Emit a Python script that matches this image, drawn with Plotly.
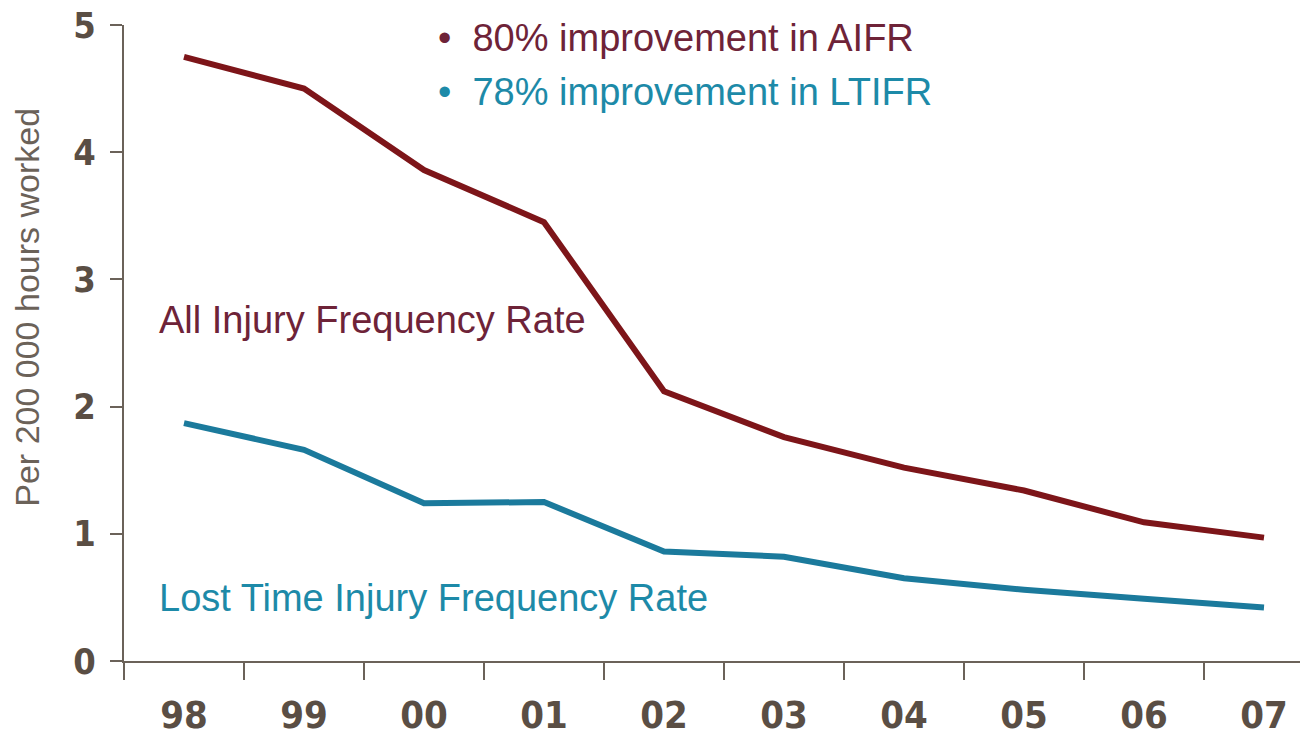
import plotly.graph_objects as go

years = ["98", "99", "00", "01", "02", "03", "04", "05", "06", "07"]
aifr = [4.75, 4.50, 3.86, 3.45, 2.12, 1.76, 1.52, 1.34, 1.09, 0.97]
ltifr = [1.87, 1.66, 1.24, 1.25, 0.86, 0.82, 0.65, 0.56, 0.49, 0.42]
y_ticks = [0, 1, 2, 3, 4, 5]

axis_col = "#6b6259"
lab_col = "#5a4e44"
aifr_line = "#7d1519"
ltifr_line = "#1b7a9c"
aifr_text = "#6e2338"
ltifr_text = "#1d8aa8"
tick_family = "DejaVu Sans Condensed, Liberation Sans Narrow, Liberation Sans, Arial"

fig = go.Figure()
fig.add_trace(go.Scatter(x=years, y=aifr, mode="lines",
                         line=dict(color=aifr_line, width=6), showlegend=False))
fig.add_trace(go.Scatter(x=years, y=ltifr, mode="lines",
                         line=dict(color=ltifr_line, width=6), showlegend=False))

fig.update_layout(
    width=1305, height=751,
    margin=dict(l=124, r=5, t=25, b=90),
    paper_bgcolor="white", plot_bgcolor="white",
    showlegend=False,
)
fig.update_xaxes(
    type="category", range=[-0.5, 9.3], tickson="boundaries", automargin=False,
    showline=True, linecolor=axis_col, linewidth=2,
    ticks="outside", ticklen=17, tickcolor=axis_col, tickwidth=2,
    showgrid=False, zeroline=False,
    tickfont=dict(family=tick_family, size=38, color=lab_col, weight="bold"),
    ticklabelstandoff=19, ticklabeloverflow="allow",
)
fig.update_yaxes(
    range=[0, 5], tickvals=y_ticks, automargin=False,
    showline=True, linecolor=axis_col, linewidth=2,
    ticks="outside", ticklen=12, tickcolor=axis_col, tickwidth=2,
    showgrid=False, zeroline=False,
    tickfont=dict(family=tick_family, size=36, color=lab_col, weight="bold"),
    ticklabelstandoff=7, ticklabeloverflow="allow",
)

txt_font = "Liberation Sans, Arial"
fig.add_annotation(text="Per 200 000 hours worked", xref="paper", yref="paper",
                   x=-0.0825, y=0.557, textangle=-90, showarrow=False,
                   font=dict(family=txt_font, size=34, color=axis_col), xanchor="center", yanchor="middle")
fig.add_annotation(text="All Injury Frequency Rate", x=-0.225, y=2.68, xref="x", yref="y",
                   xanchor="left", yanchor="middle", showarrow=False,
                   font=dict(family=txt_font, size=38, color=aifr_text))
fig.add_annotation(text="Lost Time Injury Frequency Rate", x=-0.225, y=0.495, xref="x", yref="y",
                   xanchor="left", yanchor="middle", showarrow=False,
                   font=dict(family=txt_font, size=38, color=ltifr_text))
fig.add_annotation(text="•  80% improvement in AIFR", xref="paper", yref="paper",
                   x=0.265, y=0.98, xanchor="left", yanchor="middle", showarrow=False,
                   font=dict(family=txt_font, size=38, color=aifr_text))
fig.add_annotation(text="•  78% improvement in LTIFR", xref="paper", yref="paper",
                   x=0.265, y=0.895, xanchor="left", yanchor="middle", showarrow=False,
                   font=dict(family=txt_font, size=38, color=ltifr_text))

fig.write_html("out.html", config={"displayModeBar": False},
               post_script="document.body.style.margin='0';document.body.style.overflow='hidden';")
